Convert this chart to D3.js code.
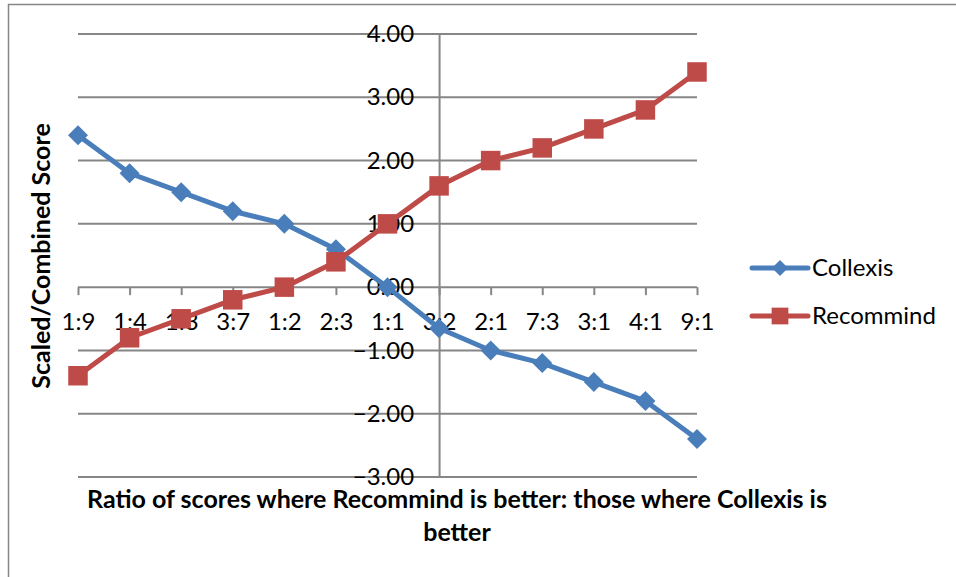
<!DOCTYPE html>
<html><head><meta charset="utf-8">
<script src="https://cdn.jsdelivr.net/npm/d3@7"></script>
<style>html,body{margin:0;padding:0;background:#fff;}svg{display:block;}</style>
</head><body>
<svg id="chart" width="956" height="577"></svg>
<script>
const categories = ["1:9","1:4","1:3","3:7","1:2","2:3","1:1","3:2","2:1","7:3","3:1","4:1","9:1"];
const collexis   = [2.4, 1.8, 1.5, 1.2, 1.0, 0.6, 0.0, -0.65, -1.0, -1.2, -1.5, -1.8, -2.4];
const recommind  = [-1.4, -0.8, -0.5, -0.2, 0.0, 0.4, 1.0, 1.6, 2.0, 2.2, 2.5, 2.8, 3.4];
const yTicks     = [-3, -2, -1, 0, 1, 2, 3, 4];
const seriesNames = ["Collexis", "Recommind"];
const xTitle1 = "Ratio of scores where Recommind is better: those where Collexis is";
const xTitle2 = "better";
const yTitle  = "Scaled/Combined Score";

const FONT = "Lato, 'Open Sans', sans-serif";
const svg = d3.select("#chart");
svg.append("rect").attr("width",956).attr("height",577).attr("fill","#fff");
svg.append("rect").attr("x",8.5).attr("y",4.5).attr("width",1000).attr("height",700)
  .attr("fill","none").attr("stroke","#868686").attr("stroke-width",1.5);

const x = d3.scalePoint().domain(categories).range([78, 697]);
const y = d3.scaleLinear().domain([-3, 4]).range([477, 34]);

const grid = "#868686";
// gridlines
svg.append("g").selectAll("line").data(yTicks).join("line")
  .attr("x1", 78).attr("x2", 697)
  .attr("y1", d => y(d)).attr("y2", d => y(d))
  .attr("stroke", grid).attr("stroke-width", 2);

// y axis at category 3:2
const yAxis = svg.append("g").attr("transform", `translate(${x("3:2")},0)`)
  .call(d3.axisLeft(y).tickValues(yTicks).tickFormat(d3.format(".2f")).tickSize(0).tickPadding(25));
yAxis.select(".domain").attr("stroke", grid).attr("stroke-width", 2);
yAxis.selectAll("text").attr("font-family", FONT).attr("font-size", 24).attr("fill", "#000");

// x axis at y=0
const xAxis = svg.append("g").attr("transform", `translate(0,${y(0)})`)
  .call(d3.axisBottom(x).tickSize(8).tickPadding(18).tickSizeOuter(0));
xAxis.select(".domain").remove();
xAxis.selectAll("line").attr("stroke", grid).attr("stroke-width", 2);
xAxis.selectAll("text").attr("font-family", FONT).attr("font-size", 24).attr("fill", "#000");

// series
const colors = ["#4A7EBB", "#BE4B48"];
const diamond = { draw(ctx, size) { const r = Math.sqrt(size/2); ctx.moveTo(0,-r); ctx.lineTo(r,0); ctx.lineTo(0,r); ctx.lineTo(-r,0); ctx.closePath(); } };
const data = [collexis, recommind];
const symbols = [diamond, d3.symbolSquare];
const sizes = [200, 380];
const line = d3.line().x((d,i) => x(categories[i])).y(d => y(d));
data.forEach((vals, s) => {
  const g = svg.append("g");
  g.append("path").attr("d", line(vals)).attr("fill","none")
    .attr("stroke", colors[s]).attr("stroke-width", 5).attr("stroke-linejoin","round");
  g.selectAll("path.m").data(vals).join("path").attr("class","m")
    .attr("transform", (d,i) => `translate(${x(categories[i])},${y(d)})`)
    .attr("d", d3.symbol().type(symbols[s]).size(sizes[s]))
    .attr("fill", colors[s]);
});

// legend
const legY = [268, 316];
const legSizes = [130, 280];
seriesNames.forEach((name, s) => {
  const g = svg.append("g");
  g.append("line").attr("x1", 752).attr("x2", 808).attr("y1", legY[s]).attr("y2", legY[s])
    .attr("stroke", colors[s]).attr("stroke-width", 5).attr("stroke-linecap","round");
  g.append("path").attr("transform", `translate(780,${legY[s]})`)
    .attr("d", d3.symbol().type(symbols[s]).size(legSizes[s])).attr("fill", colors[s]);
  g.append("text").attr("x", 812).attr("y", legY[s]).attr("dy", "0.35em")
    .attr("font-family", FONT).attr("font-size", 24).attr("fill","#000").text(name);
});

// axis titles
svg.append("text").attr("x", 457).attr("y", 508).attr("text-anchor","middle")
  .attr("font-family", FONT).attr("font-weight","bold").attr("font-size", 25).text(xTitle1);
svg.append("text").attr("x", 457).attr("y", 541).attr("text-anchor","middle")
  .attr("font-family", FONT).attr("font-weight","bold").attr("font-size", 25).text(xTitle2);
svg.append("text").attr("transform", "translate(50,256) rotate(-90)").attr("text-anchor","middle")
  .attr("font-family", FONT).attr("font-weight","bold").attr("font-size", 25).text(yTitle);
</script>
</body></html>
